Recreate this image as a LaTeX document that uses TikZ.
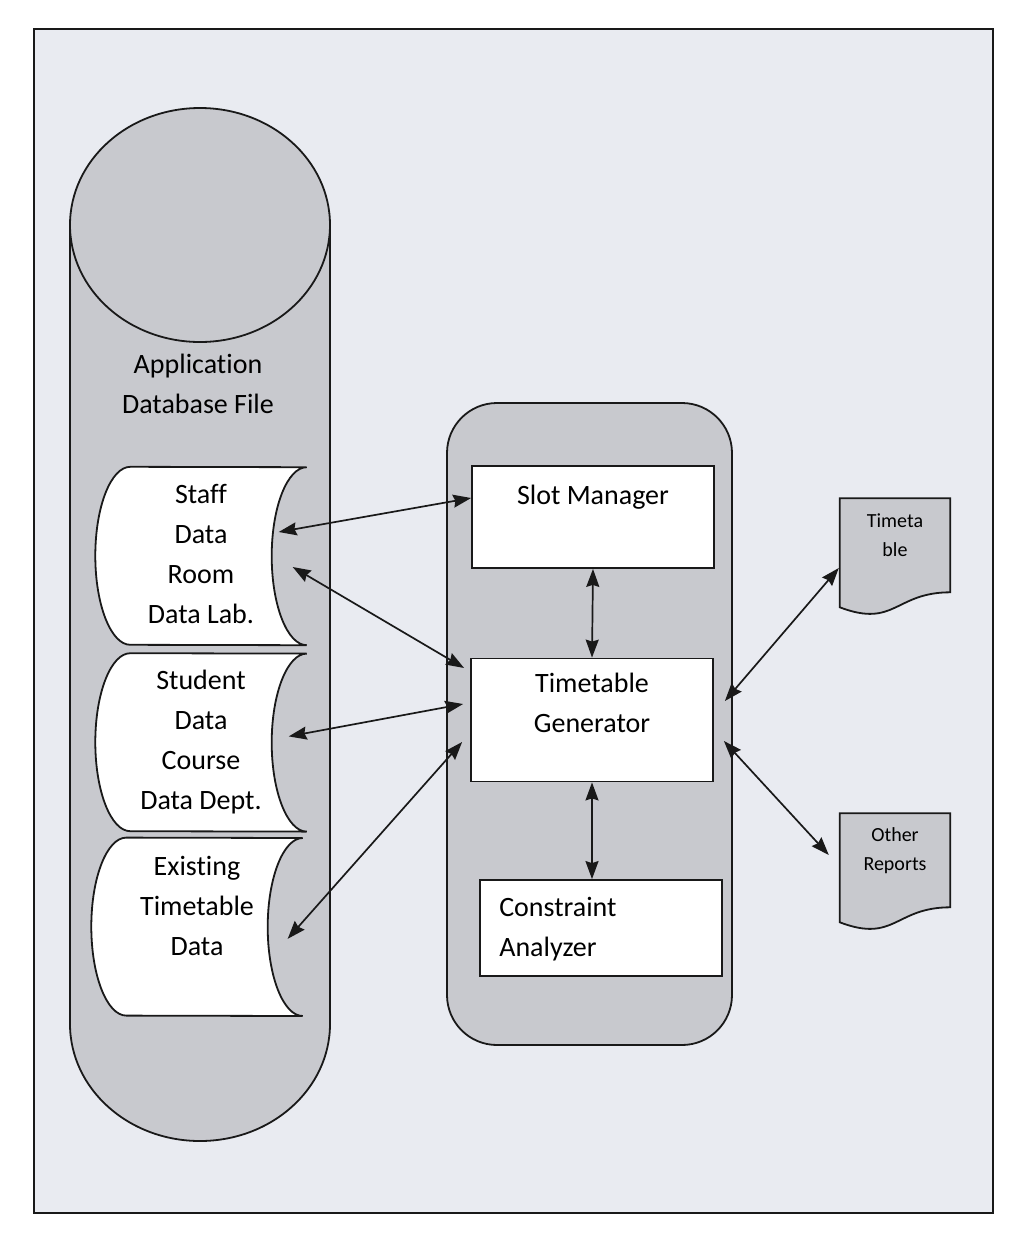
\documentclass[tikz,border=0pt]{standalone}
\usepackage{fontspec}
\setmainfont{Carlito}[Ligatures=NoCommon]
\usetikzlibrary{calc, positioning, arrows.meta}
\definecolor{scan_bg}{RGB}{233, 235, 241}
\definecolor{my_gray}{RGB}{200, 201, 206}
\definecolor{my_ink}{RGB}{25, 25, 25}
\tikzset {
  outerframe/.style = {draw=my_ink, line width=2pt, fill=scan_bg},
  grayshape/.style = {draw=my_ink, line width=1.8pt, fill=my_gray},
  store/.style = {minimum width=211pt, minimum height=178pt, inner sep=0},
  box/.style = {draw=my_ink, line width=1.8pt, fill=white, rectangle, minimum width=242pt},
  doc/.style = {minimum width=110pt, minimum height=117pt, inner sep=0},
  bigtext/.style = {align=center, font=\fontsize{28}{40}\selectfont, inner sep=0pt},
  smalltext/.style = {align=center, font=\fontsize{20}{29}\selectfont, inner sep=0pt},
  line/.style = {{Stealth[length=18pt, width=13pt, inset=2pt]}-{Stealth[length=18pt, width=13pt, inset=2pt]}, line width=1.7pt, color=my_ink}
}
\pgfdeclarelayer{bottom}
\pgfdeclarelayer{background}
\pgfsetlayers{bottom,background,main}

% stored data shape and document shape, drawn round an empty node
\newcommand{\storeshape}[1]{%
  \draw[draw=my_ink, line width=1.8pt, fill=white] ($(#1.north west)+(35,0)$) arc[start angle=90, end angle=270, x radius=35pt, y radius=89pt] -- (#1.south east) arc[start angle=270, end angle=90, x radius=35pt, y radius=89pt] -- cycle;}
\newcommand{\docshape}[1]{%
  \draw[grayshape] (#1.north west) -- (#1.north east) -- ($(#1.north east)+(0,94)$) .. controls ($(#1.north)+(0,94)$) and ($(#1.north)+(0,130)$) .. ($(#1.north west)+(0,109)$) -- cycle;}

\begin{document}
\begin{tikzpicture}[x=1pt, y=-1pt]
    \useasboundingbox (0,0) rectangle (1012,1235);

    % database file
    \node[bigtext] (dbname) at (198,384) {Application\\Database File};
    \node[store] (staff) at (201,556) {};
    \node[store, below=8pt of staff] (student) {};
    \node[store, below=6pt of student, xshift=-4pt] (existing) {};
    \node[bigtext, below=17pt of staff.north] (stafftext) {Staff\\Data\\Room\\Data Lab.};
    \node[bigtext, below=17pt of student.north] (studenttext) {Student\\Data\\Course\\Data Dept.};
    \node[bigtext, below=18pt of existing.north] (existingtext) {Existing\\Timetable\\Data};

    % generator modules
    \node[box, minimum height=102pt] (slot) at (593,517) {};
    \node[box, minimum height=123pt] (gen) at (592,720) {};
    \node[box, minimum height=96pt] (cons) at (601,928) {};
    \node[bigtext, below=20pt of slot.north] (slottext) {Slot Manager};
    \node[bigtext, below=15pt of gen.north] (gentext) {Timetable\\Generator};
    \node[bigtext, align=left, below right=18pt and 20pt of cons.north west] (constext) {Constraint\\Analyzer};

    % outputs
    \node[doc] (ttdoc) at (895,557) {};
    \node[doc] (otherdoc) at (895,872) {};
    \node[smalltext, below=15pt of ttdoc.north] (tttext) {Timeta\\ble};
    \node[smalltext, below=14pt of otherdoc.north] (othertext) {Other\\Reports};

    \begin{pgfonlayer}{bottom}
        \fill[white] (0,0) rectangle (1012,1235);
        \draw[outerframe] (34,29) rectangle (993,1213);
        \draw[grayshape] (70,225) -- (70,1024) arc[start angle=180, end angle=360, x radius=130pt, y radius=117pt] -- (330,225);
        \draw[grayshape] (200,225) ellipse [x radius=130pt, y radius=117pt];
        \draw[grayshape, rounded corners=50pt] (447,403) rectangle (732,1045);
    \end{pgfonlayer}
    \begin{pgfonlayer}{background}
        \storeshape{staff}
        \storeshape{student}
        \storeshape{existing}
        \docshape{ttdoc}
        \docshape{otherdoc}
    \end{pgfonlayer}

    \draw[line] ([xshift=-28pt, yshift=24pt]staff.east) -- ([yshift=19pt]slot.west);
    \draw[line] ([xshift=-14pt, yshift=-11pt]staff.east) -- ([xshift=-6pt, yshift=52pt]gen.west);
    \draw[line] ([xshift=-18pt, yshift=6pt]student.east) -- ([xshift=-7pt, yshift=16pt]gen.west);
    \draw[line] ([xshift=-15pt, yshift=-12pt]existing.east) -- ([xshift=-8pt, yshift=-22pt]gen.west);
    \draw[line] (slot.south) -- (gen.north);
    \draw[line] (gen.south) -- (gen.south |- cons.north);
    \draw[line] ([xshift=11pt, yshift=19pt]gen.east) -- ([xshift=-1pt, yshift=-11pt]ttdoc.west);
    \draw[line] ([xshift=10pt, yshift=-21pt]gen.east) -- ([xshift=-11pt, yshift=17pt]otherdoc.west);

\end{tikzpicture}
\end{document}
